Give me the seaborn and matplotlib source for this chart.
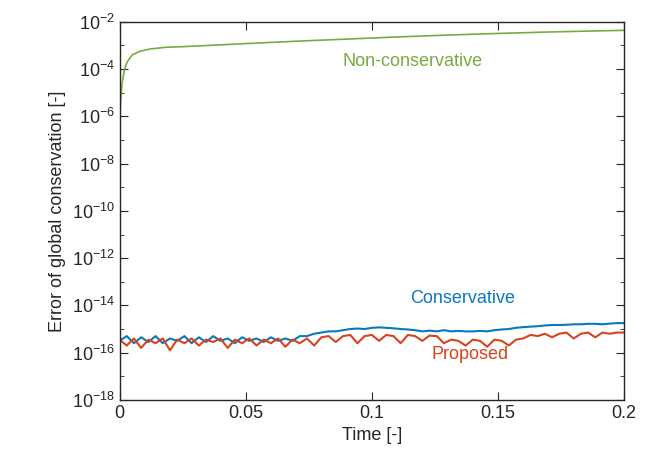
import numpy as np
import pandas as pd
import matplotlib
matplotlib.use('Agg')
import matplotlib.pyplot as plt
import seaborn as sns

# Non-conservative: (time, log10 error)
green_t = [0.0, 0.0005, 0.001, 0.002, 0.003, 0.005, 0.008, 0.012, 0.018, 0.025, 0.035,
           0.05, 0.07, 0.09, 0.11, 0.13, 0.15, 0.17, 0.19, 0.2]
green_e = [-6.3, -5.3, -4.6, -4.0, -3.7, -3.4, -3.25, -3.15, -3.08, -3.05, -3.0,
           -2.92, -2.82, -2.73, -2.64, -2.56, -2.49, -2.43, -2.38, -2.36]

# Conservative / Proposed, hand-read jagged traces (log10 error), evenly spaced in time
blue_e = [-15.5, -15.3, -15.6, -15.35, -15.55, -15.3, -15.6, -15.4, -15.5, -15.3,
          -15.6, -15.35, -15.55, -15.3, -15.5, -15.4, -15.6, -15.35, -15.5, -15.4,
          -15.55, -15.35, -15.5, -15.4, -15.5, -15.3, -15.3, -15.2, -15.15, -15.1,
          -15.1, -15.05, -15.0, -14.98, -15.0, -14.95, -14.93, -14.95, -14.97, -15.0,
          -15.02, -15.05, -15.1, -15.07, -15.1, -15.05, -15.1, -15.08, -15.1, -15.1,
          -15.08, -15.1, -15.05, -15.02, -15.0, -14.95, -14.92, -14.9, -14.88, -14.85,
          -14.83, -14.83, -14.82, -14.8, -14.8, -14.78, -14.78, -14.8, -14.77, -14.75, -14.75]
red_e = [-15.45, -15.7, -15.4, -15.8, -15.45, -15.6, -15.4, -15.9, -15.45, -15.6,
         -15.4, -15.7, -15.45, -15.55, -15.4, -15.8, -15.45, -15.6, -15.4, -15.7,
         -15.45, -15.6, -15.4, -15.75, -15.45, -15.6, -15.4, -15.7, -15.35, -15.3,
         -15.55, -15.3, -15.25, -15.6, -15.3, -15.25, -15.5, -15.25, -15.3, -15.6,
         -15.25, -15.3, -15.5, -15.28, -15.3, -15.6, -15.45, -15.5, -15.7, -15.45,
         -15.5, -15.75, -15.45, -15.5, -15.7, -15.45, -15.4, -15.25, -15.3, -15.2,
         -15.35, -15.2, -15.15, -15.4, -15.2, -15.15, -15.35, -15.15, -15.2, -15.15, -15.15]
dense_t = [i * 0.2 / (len(blue_e) - 1) for i in range(len(blue_e))]

green = pd.DataFrame({'t': green_t, 'err': [10.0 ** v for v in green_e]})
blue = pd.DataFrame({'t': dense_t, 'err': [10.0 ** v for v in blue_e]})
red = pd.DataFrame({'t': dense_t, 'err': [10.0 ** v for v in red_e]})

sns.set_style('ticks')
plt.rcParams['font.family'] = ['Liberation Sans', 'DejaVu Sans']
plt.rcParams['mathtext.fontset'] = 'custom'
plt.rcParams['mathtext.rm'] = 'Liberation Sans'

fig, ax = plt.subplots(figsize=(6.64, 4.65), dpi=100)
fig.subplots_adjust(left=0.18, right=0.94, top=0.953, bottom=0.14)

sns.lineplot(data=green, x='t', y='err', ax=ax, color='#77ab3f', lw=1.2)
sns.lineplot(data=blue, x='t', y='err', ax=ax, color='#0a78be', lw=1.5)
sns.lineplot(data=red, x='t', y='err', ax=ax, color='#d8421c', lw=1.5)

ax.set_yscale('log')
ax.set_xlim(0, 0.2)
ax.set_ylim(1e-18, 1e-2)
ax.set_yticks([10.0 ** k for k in range(-18, -1, 2)])
ax.set_yticklabels([f'10$^{{{k}}}$' for k in range(-18, -1, 2)])
ax.yaxis.set_minor_locator(matplotlib.ticker.FixedLocator([10.0 ** k for k in range(-17, -2, 2)]))
ax.yaxis.set_minor_formatter(matplotlib.ticker.NullFormatter())
ax.set_xticks([0, 0.05, 0.1, 0.15, 0.2])
ax.set_xticklabels(['0', '0.05', '0.1', '0.15', '0.2'])
ax.tick_params(direction='in', top=True, right=True, labelsize=13, length=6)
ax.tick_params(which='minor', direction='in', right=True, length=3)
for s in ax.spines.values():
    s.set_linewidth(1.0)
ax.set_xlabel('Time [-]', fontsize=13)
ax.set_ylabel('Error of global conservation [-]', fontsize=13)

ax.text(0.116, 2e-4, 'Non-conservative', color='#77ab3f', fontsize=13, ha='center', va='center')
ax.text(0.136, 2e-14, 'Conservative', color='#0a78be', fontsize=13, ha='center', va='center')
ax.text(0.139, 8e-17, 'Proposed', color='#d8421c', fontsize=13, ha='center', va='center')

plt.savefig('out.png', dpi=100)
plt.close()
